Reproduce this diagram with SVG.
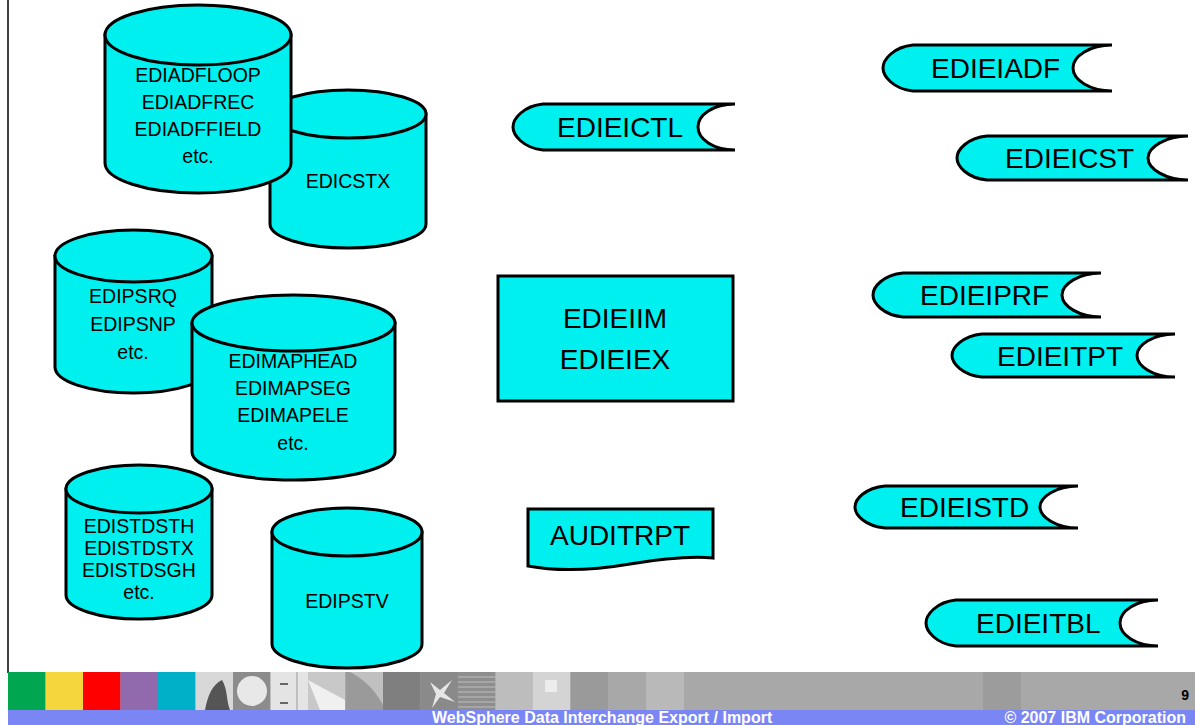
<svg xmlns="http://www.w3.org/2000/svg" width="1195" height="725" viewBox="0 0 1195 725">
<style>
.s{fill:#00f0f0;stroke:#000;stroke-width:3}
.t{font-family:"Liberation Sans",Arial,sans-serif;fill:#000}
.c{font-size:19.5px;text-anchor:middle}
.b{font-size:28px}
.m{text-anchor:middle}
.f{font-family:"Liberation Sans",Arial,sans-serif;font-weight:bold;font-size:16px;fill:#fff}
</style>
<rect x="0" y="0" width="1195" height="725" fill="#fff"/>
<line x1="8" y1="0" x2="8" y2="673" stroke="#000" stroke-width="1.5"/>

<g id="cyl-edicstx">
<path class="s" d="M270,114 V224 A78,24 0 0 0 426,224 V114 Z"/>
<ellipse class="s" cx="348" cy="114" rx="78" ry="24"/>
<text class="t c" x="348" y="188">EDICSTX</text>
</g>
<g id="cyl-ediadf">
<path class="s" d="M105,35 V163 A93,30 0 0 0 291,163 V35 Z"/>
<ellipse class="s" cx="198" cy="35" rx="93" ry="30"/>
<text class="t c" x="198" y="82">EDIADFLOOP</text>
<text class="t c" x="198" y="109">EDIADFREC</text>
<text class="t c" x="198" y="136">EDIADFFIELD</text>
<text class="t c" x="198" y="163">etc.</text>
</g>
<g id="cyl-edipsrq">
<path class="s" d="M55,256 V367 A78.5,26 0 0 0 212,367 V256 Z"/>
<ellipse class="s" cx="133.5" cy="256" rx="78.5" ry="26"/>
<text class="t c" x="133" y="303">EDIPSRQ</text>
<text class="t c" x="133" y="331">EDIPSNP</text>
<text class="t c" x="133" y="359">etc.</text>
</g>
<g id="cyl-edimaphead">
<path class="s" d="M192,323 V452 A101.5,28 0 0 0 395,452 V323 Z"/>
<ellipse class="s" cx="293.5" cy="323" rx="101.5" ry="28"/>
<text class="t c" x="293" y="368">EDIMAPHEAD</text>
<text class="t c" x="293" y="395">EDIMAPSEG</text>
<text class="t c" x="293" y="422">EDIMAPELE</text>
<text class="t c" x="293" y="450">etc.</text>
</g>
<g id="cyl-edistdsth">
<path class="s" d="M66,489 V595 A73,24 0 0 0 212,595 V489 Z"/>
<ellipse class="s" cx="139" cy="489" rx="73" ry="24"/>
<text class="t c" x="139" y="533">EDISTDSTH</text>
<text class="t c" x="139" y="555">EDISTDSTX</text>
<text class="t c" x="139" y="577">EDISTDSGH</text>
<text class="t c" x="139" y="599">etc.</text>
</g>
<g id="cyl-edipstv">
<path class="s" d="M272,532 V644 A75,24 0 0 0 422,644 V532 Z"/>
<ellipse class="s" cx="347" cy="532" rx="75" ry="24"/>
<text class="t c" x="347" y="608">EDIPSTV</text>
</g>

<g id="proc-edieiim">
<rect class="s" x="498" y="276" width="235" height="125"/>
<text class="t b m" x="615" y="328">EDIEIIM</text>
<text class="t b m" x="615" y="369">EDIEIEX</text>
</g>
<g id="doc-auditrpt">
<path class="s" d="M528,509 H713 V558 C690,556 660,559 630,564 C595,570 560,572 528,566 Z"/>
<text class="t b m" x="620" y="545">AUDITRPT</text>
</g>

<g id="tape-edieictl">
<path class="s" d="M543,104 H735 C713,104 698,115 698,127 C698,139 713,150 735,150 H543 C523,148 513,135 513,127 C513,119 523,106 543,104 Z"/>
<text class="t b" x="557" y="137">EDIEICTL</text>
</g>
<g id="tape-edieiadf">
<path class="s" d="M913,45 H1112 C1090,45 1073,56 1073,68 C1073,80 1090,91 1112,91 H913 C893,89 883,76 883,68 C883,60 893,47 913,45 Z"/>
<text class="t b" x="931" y="78">EDIEIADF</text>
</g>
<g id="tape-edieicst">
<path class="s" d="M987,136 H1188 C1166,136 1148,147 1148,158 C1148,169 1166,180 1188,180 H987 C967,178 957,166 957,158 C957,150 967,138 987,136 Z"/>
<text class="t b" x="1005" y="168">EDIEICST</text>
</g>
<g id="tape-edieiprf">
<path class="s" d="M903,273 H1101 C1079,273 1062,284 1062,295 C1062,306 1079,317 1101,317 H903 C883,315 873,303 873,295 C873,287 883,275 903,273 Z"/>
<text class="t b" x="920" y="305">EDIEIPRF</text>
</g>
<g id="tape-edieitpt">
<path class="s" d="M982,334 H1175 C1153,334 1137,345 1137,355.5 C1137,366 1153,377 1175,377 H982 C962,375 952,363 952,355.5 C952,348 962,336 982,334 Z"/>
<text class="t b" x="997" y="365.5">EDIEITPT</text>
</g>
<g id="tape-edieistd">
<path class="s" d="M885,486 H1078 C1056,486 1040,497 1040,507 C1040,517 1056,528 1078,528 H885 C865,526 855,515 855,507 C855,499 865,488 885,486 Z"/>
<text class="t b" x="900" y="517">EDIEISTD</text>
</g>
<g id="tape-edieitbl">
<path class="s" d="M956,600 H1158 C1136,600 1120,611 1120,623 C1120,635 1136,646 1158,646 H956 C936,644 926,631 926,623 C926,615 936,602 956,600 Z"/>
<text class="t b" x="976" y="633">EDIEITBL</text>
</g>

<g id="connectors"></g>

<g id="footer">
<rect x="8" y="672" width="1187" height="38" fill="#a8a8a8"/>
<rect x="8" y="672" width="37.5" height="38" fill="#00a650"/>
<rect x="45.5" y="672" width="37.5" height="38" fill="#f5d63d"/>
<rect x="83" y="672" width="37.5" height="38" fill="#ff0000"/>
<rect x="120.5" y="672" width="37.5" height="38" fill="#9169ad"/>
<rect x="158" y="672" width="37.5" height="38" fill="#00b0c8"/>
<rect x="195.5" y="672" width="37.5" height="38" fill="#d8d8d8"/>
<path d="M205,710 C208,695 212,685 222,680 C228,690 226,700 230,710 Z" fill="#555"/>
<rect x="233" y="672" width="37.5" height="38" fill="#8c8c8c"/>
<circle cx="252" cy="691" r="15" fill="#e8e8e8"/>
<rect x="270.5" y="672" width="37.5" height="38" fill="#e4e4e4"/>
<rect x="280" y="683" width="8" height="2" fill="#666"/>
<rect x="280" y="702" width="8" height="2" fill="#666"/>
<line x1="297" y1="672" x2="297" y2="710" stroke="#999"/>
<rect x="308" y="672" width="37.5" height="38" fill="#c8c8c8"/>
<path d="M308,680 L345,700 L345,710 L320,710 Z" fill="#f0f0f0"/>
<rect x="345.5" y="672" width="37.5" height="38" fill="#9a9a9a"/>
<path d="M350,672 C365,680 375,690 383,705 L383,672 Z" fill="#c0c0c0"/>
<rect x="383" y="672" width="37.5" height="38" fill="#7f7f7f"/>
<rect x="420.5" y="672" width="37.5" height="38" fill="#8a8a8a"/>
<path d="M430,682 L440,690 L452,680 L444,693 L455,702 L440,697 L432,708 L436,694 Z" fill="#e6e6e6"/>
<rect x="458" y="672" width="37.5" height="38" fill="#8e8e8e"/>
<path d="M458,677 H495.5 M458,682 H495.5 M458,687 H495.5 M458,692 H495.5 M458,697 H495.5 M458,702 H495.5 M458,707 H495.5" stroke="#a6a6a6" stroke-width="2"/>
<rect x="495.5" y="672" width="37.5" height="38" fill="#bdbdbd"/>
<rect x="533" y="672" width="37.5" height="38" fill="#d4d4d4"/>
<rect x="545" y="680" width="12" height="12" fill="#ececec"/>
<rect x="570.5" y="672" width="37.5" height="38" fill="#9a9a9a"/>
<rect x="646" y="672" width="38" height="38" fill="#b9b9b9"/>
<rect x="983" y="672" width="38" height="38" fill="#9c9c9c"/>
<rect x="8" y="710" width="1187" height="15" fill="#7b86f5"/>
<text class="f" x="432" y="723">WebSphere Data Interchange Export / Import</text>
<text class="f" x="1186" y="723" text-anchor="end">© 2007 IBM Corporation</text>
<text x="1189" y="700" text-anchor="end" style="font-family:'Liberation Sans',Arial,sans-serif;font-weight:bold;font-size:14px;fill:#000">9</text>
</g>
</svg>
